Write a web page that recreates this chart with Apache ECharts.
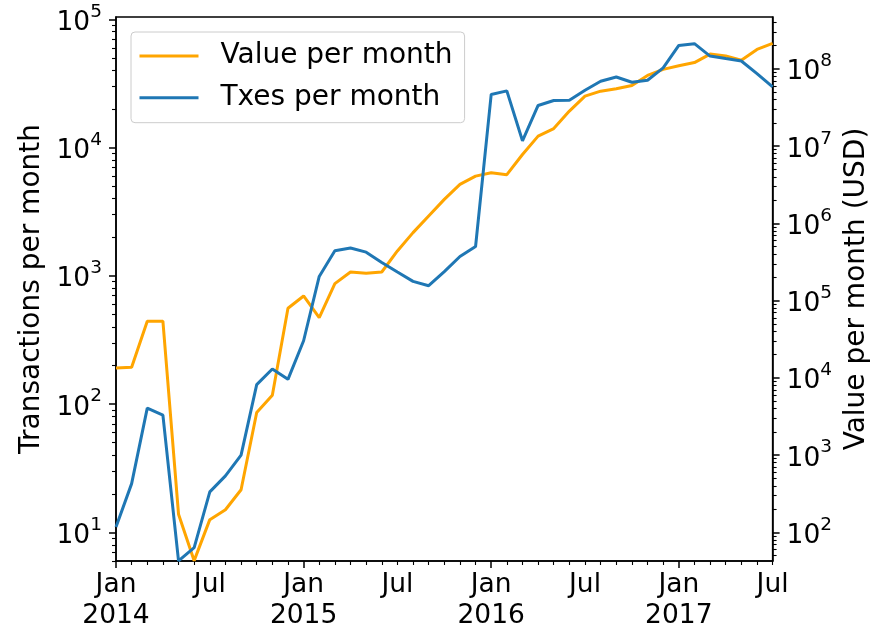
<!DOCTYPE html>
<html><head><meta charset="utf-8">
<script src="https://cdn.jsdelivr.net/npm/echarts@6/dist/echarts.min.js"></script>
<style>html,body{margin:0;padding:0;background:#fff}#c{width:879px;height:632px}</style>
</head><body><div id="c"></div>
<script>
// ---- data ----
const months = [
 '2014-01','2014-02','2014-03','2014-04','2014-05','2014-06','2014-07','2014-08','2014-09','2014-10','2014-11','2014-12',
 '2015-01','2015-02','2015-03','2015-04','2015-05','2015-06','2015-07','2015-08','2015-09','2015-10','2015-11','2015-12',
 '2016-01','2016-02','2016-03','2016-04','2016-05','2016-06','2016-07','2016-08','2016-09','2016-10','2016-11','2016-12',
 '2017-01','2017-02','2017-03','2017-04','2017-05','2017-06','2017-07'];
const txesPerMonth = [
 11, 24, 93, 82, 6, 7.6, 20.7, 27.6, 40, 142, 188, 156,
 312, 990, 1570, 1650, 1530, 1270, 1070, 906, 838, 1080, 1416, 1694,
 25950, 27670, 11300, 21300, 23300, 23400, 28000, 32900, 35500, 32300, 33500, 41800,
 62600, 64600, 51700, 49400, 47300, 37700, 29700];
const valuePerMonth = [
 13460, 13730, 54200, 54200, 172, 43, 146, 196, 356, 3565, 5970, 79800,
 115000, 60400, 166000, 235000, 226000, 235000, 440000, 760000, 1250000, 2050000, 3200000, 4100000,
 4540000, 4280000, 7800000, 13500000, 16900000, 28500000, 44500000, 51600000, 55500000, 61200000, 82500000, 98700000,
 110000000, 121000000, 156000000, 147000000, 130000000, 179000000, 214000000];
const xLabelMonths = ['2014-01','2014-07','2015-01','2015-07','2016-01','2016-07','2017-01','2017-07'];
const xMajorMonths = ['2014-01','2015-01','2016-01','2017-01'];
const leftTicks = [10, 100, 1000, 10000, 100000];
const rightTicks = [100, 1000, 10000, 100000, 1000000, 10000000, 100000000];
const monthNames = {'01':'Jan','07':'Jul'};

// ---- layout / style ----
const FONT = 'DejaVu Sans';
const FS = 26.5;   // tick labels
const FS2 = 28;    // axis names, legend
const leftMin = Math.pow(10, 0.777), leftMax = Math.pow(10, 5.018);
const rightMin = Math.pow(10, 1.629), rightMax = Math.pow(10, 8.673);

function minorLog(min, max) {
  const out = [];
  for (let e = Math.floor(Math.log10(min)); e <= Math.ceil(Math.log10(max)); e++) {
    for (let k = 2; k <= 9; k++) { const v = k * Math.pow(10, e); if (v >= min && v <= max) out.push(v); }
  }
  return out;
}
const idx = m => months.indexOf(m);
const xMinor = months.map((m, i) => i).filter(i => xMajorMonths.indexOf(months[i]) < 0);

const black = '#000';
const supRich = {
  b: {fontSize: FS, fontFamily: FONT, color: black, lineHeight: 34, verticalAlign: 'bottom'},
  s: {fontSize: 18.5, fontFamily: FONT, color: black, lineHeight: 18, verticalAlign: 'top'}
};
const supFmt = v => '{b|10}{s|' + Math.round(Math.log10(v)) + '}';

function majorY(pos, min, max, ticks, name, gap) {
  return {
    type: 'log', logBase: 10, position: pos, min: min, max: max,
    name: name, nameLocation: 'middle', nameGap: gap, nameRotate: 90,
    nameTextStyle: {fontSize: FS2, fontFamily: FONT, color: black},
    axisLine: {show: true, onZero: false, lineStyle: {color: black, width: 1.5}},
    axisTick: {show: true, length: 7, customValues: ticks, lineStyle: {color: black, width: 1.5}},
    axisLabel: {show: true, customValues: ticks, margin: 14, formatter: supFmt, rich: supRich},
    splitLine: {show: false}
  };
}
function minorY(pos, min, max) {
  return {
    type: 'log', logBase: 10, position: pos, min: min, max: max,
    axisLine: {show: false, onZero: false},
    axisTick: {show: true, length: 4, customValues: minorLog(min, max), lineStyle: {color: black, width: 1.1}},
    axisLabel: {show: false}, splitLine: {show: false}
  };
}

const option = {
  animation: false,
  backgroundColor: '#fff',
  grid: {left: 116, right: 103, top: 17, bottom: 70, show: true, borderColor: black, borderWidth: 1.5, containLabel: false},
  legend: {
    data: ['Value per month', 'Txes per month'],
    orient: 'vertical', left: 131, top: 32,
    icon: 'rect', itemWidth: 59, itemHeight: 3, itemGap: 11.7,
    padding: [9, 12, 10, 8.5],
    backgroundColor: 'rgba(255,255,255,0.8)', borderColor: '#cccccc', borderWidth: 1, borderRadius: 4,
    textStyle: {fontSize: FS2, fontFamily: FONT, color: black, lineHeight: 30, padding: [0, 0, 0, 17]}
  },
  xAxis: [
    {
      type: 'value', position: 'bottom', min: 0, max: months.length - 1,
      axisLine: {show: true, onZero: false, lineStyle: {color: black, width: 1.5}},
      axisTick: {show: true, length: 7, customValues: xMajorMonths.map(idx), lineStyle: {color: black, width: 1.5}},
      axisLabel: {
        show: true, customValues: xLabelMonths.map(idx), margin: 9,
        fontSize: FS, fontFamily: FONT, color: black, lineHeight: 31,
        formatter: v => { const m = months[Math.round(v)]; const mm = m.slice(5); return mm === '01' ? monthNames[mm] + '\n' + m.slice(0, 4) : monthNames[mm]; }
      },
      splitLine: {show: false}
    },
    {
      type: 'value', position: 'bottom', min: 0, max: months.length - 1,
      axisLine: {show: false, onZero: false},
      axisTick: {show: true, length: 4, customValues: xMinor, lineStyle: {color: black, width: 1.1}},
      axisLabel: {show: false}, splitLine: {show: false}
    }
  ],
  yAxis: [
    majorY('left', leftMin, leftMax, leftTicks, 'Transactions per month', 67),
    majorY('right', rightMin, rightMax, rightTicks, 'Value per month (USD)', 70),
    minorY('left', leftMin, leftMax),
    minorY('right', rightMin, rightMax)
  ],
  series: [
    {
      name: 'Value per month', type: 'line', xAxisIndex: 0, yAxisIndex: 1,
      data: months.map((m, i) => [i, valuePerMonth[i]]),
      symbol: 'none', showSymbol: false,
      lineStyle: {color: '#ffa500', width: 3}, itemStyle: {color: '#ffa500'}, z: 2
    },
    {
      name: 'Txes per month', type: 'line', xAxisIndex: 0, yAxisIndex: 0,
      data: months.map((m, i) => [i, txesPerMonth[i]]),
      symbol: 'none', showSymbol: false,
      lineStyle: {color: '#1f77b4', width: 3}, itemStyle: {color: '#1f77b4'}, z: 3
    }
  ]
};
const chart = echarts.init(document.getElementById('c'), null, {renderer: 'canvas'});
chart.setOption(option);
</script>
</body></html>
